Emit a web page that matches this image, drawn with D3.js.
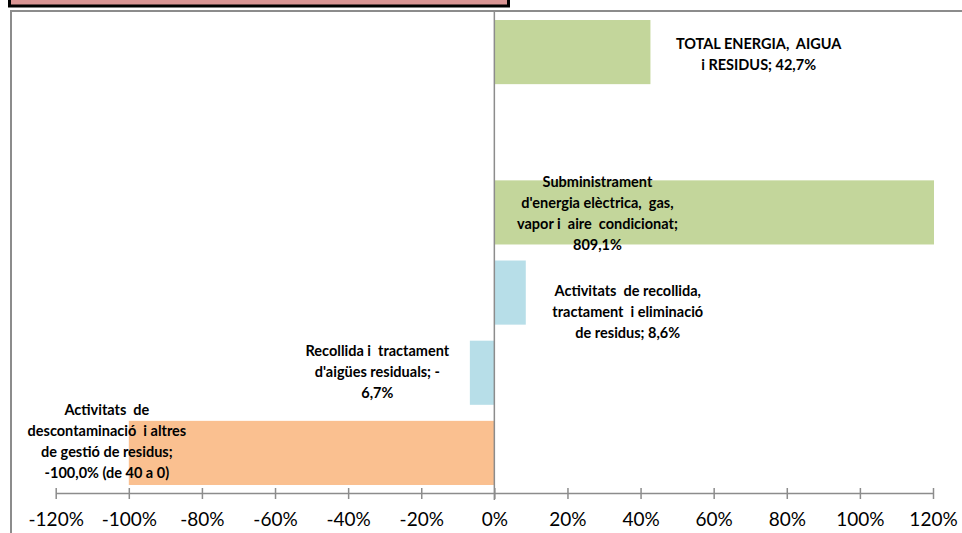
<!DOCTYPE html>
<html>
<head>
<meta charset="utf-8">
<script src="https://cdn.jsdelivr.net/npm/d3@7"></script>
<style>
  body { margin: 0; background: #fff; }
  svg { display: block; }
  .lbl { font-family: Lato, "Open Sans", sans-serif; font-weight: bold; font-size: 14.5px; fill: #000; }
  .tick text { font-family: Lato, "Open Sans", sans-serif; font-size: 19px; fill: #000; }
</style>
</head>
<body>
<svg id="chart" width="962" height="533"></svg>
<script>
// categories, top to bottom (one empty row between total and the first sub-sector)
const categories = ['total', 'gap', 'subministrament', 'recollida_residus', 'aigues', 'descontaminacio'];
const values = [42.7, null, 809.1, 8.6, -6.7, -100.0];
const labelLines = [
    ['TOTAL ENERGIA,  AIGUA', 'i RESIDUS; 42,7%'],
    [],
    ['Subministrament', "d'energia elèctrica,  gas,", 'vapor i  aire  condicionat;', '809,1%'],
    ['Activitats  de recollida,', 'tractament  i eliminació', 'de residus; 8,6%'],
    ['Recollida i  tractament', "d'aigües residuals; -", '6,7%'],
    ['Activitats  de', 'descontaminació  i altres', 'de gestió de residus;', '-100,0% (de 40 a 0)']
];
const tickValues = [-120, -100, -80, -60, -40, -20, 0, 20, 40, 60, 80, 100, 120];

// layout only: where Excel put each data label (x in axis units, y offset from band centre)
const labelX = [72.3, 0, 28.2, 36.5, -32, -106];
const labelDy = [2, 0, 1, 19, -1, -11];
const barColors = ['#c3d69b', null, '#c3d69b', '#b7dee8', '#b7dee8', '#fac090'];

const svg = d3.select('#chart');

// title box peeking in at the top
svg.append('rect')
    .attr('x', 9.5).attr('y', -10).attr('width', 499).attr('height', 16)
    .attr('fill', '#d99594').attr('stroke', '#000').attr('stroke-width', 3);

// plot area frame
svg.append('rect')
    .attr('x', 11).attr('y', 11).attr('width', 970).attr('height', 540)
    .attr('fill', 'none').attr('stroke', '#8c8c8c').attr('stroke-width', 2);

const x = d3.scaleLinear().domain([-120, 120]).range([55.7, 933]);
const y = d3.scaleBand().domain(categories).range([12, 493]).paddingInner(0.2).paddingOuter(0.1);

const rows = categories.map((c, i) => ({ c, v: values[i], lines: labelLines[i], i }))
    .filter(d => d.v !== null);

svg.append('defs').append('clipPath').attr('id', 'plot')
    .append('rect').attr('x', x(-120)).attr('y', 11).attr('width', x(120) - x(-120) + 1).attr('height', 490);

svg.append('g').attr('clip-path', 'url(#plot)')
    .selectAll('rect').data(rows).join('rect')
    .attr('x', d => x(Math.min(0, d.v)))
    .attr('y', d => y(d.c))
    .attr('width', d => Math.abs(x(d.v) - x(0)))
    .attr('height', y.bandwidth())
    .attr('fill', d => barColors[d.i]);

// zero line
svg.append('line')
    .attr('x1', x(0)).attr('x2', x(0)).attr('y1', 11).attr('y2', 500)
    .attr('stroke', '#8c8c8c').attr('stroke-width', 1.5);

// bottom axis
const axis = d3.axisBottom(x).tickValues(tickValues)
    .tickFormat(d => d + '%').tickSizeInner(11).tickSizeOuter(0).tickPadding(9);
const gAxis = svg.append('g').attr('transform', 'translate(0,493)').call(axis);
gAxis.select('.domain').attr('stroke', '#8c8c8c').attr('stroke-width', 1.5);
gAxis.selectAll('.tick line').attr('stroke', '#8c8c8c').attr('stroke-width', 1.5)
    .attr('y1', -5).attr('y2', 6);

// data labels
const lineH = 21;
rows.forEach(d => {
    const cy = y(d.c) + y.bandwidth() / 2 + labelDy[d.i];
    const n = d.lines.length;
    const t = svg.append('text').attr('class', 'lbl').attr('text-anchor', 'middle');
    d.lines.forEach((s, k) => {
        t.append('tspan')
            .attr('x', x(labelX[d.i]))
            .attr('y', cy + (k - (n - 1) / 2) * lineH)
            .attr('dy', '0.35em')
            .attr('xml:space', 'preserve')
            .text(s);
    });
});
</script>
</body>
</html>
